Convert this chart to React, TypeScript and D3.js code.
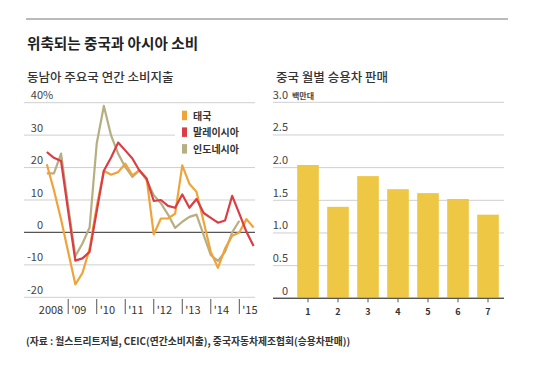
import * as d3 from 'd3';

// quarterly consumer spending growth, % y/y
const quarters = [
    '2008Q1', '2008Q2', '2008Q3', '2008Q4',
    '2009Q1', '2009Q2', '2009Q3', '2009Q4',
    '2010Q1', '2010Q2', '2010Q3', '2010Q4',
    '2011Q1', '2011Q2', '2011Q3', '2011Q4',
    '2012Q1', '2012Q2', '2012Q3', '2012Q4',
    '2013Q1', '2013Q2', '2013Q3', '2013Q4',
    '2014Q1', '2014Q2', '2014Q3', '2014Q4',
    '2015Q1', '2015Q2',
];
const thailand = [21, 13, 4, -6, -16, -12.5, -5, 8, 19, 17.8, 18.6, 21.2, 17.6, 19.2, 16.6, -0.6, 4.3, 4.3, 5.8, 20.7, 15, 12.5, 3.3, -6, -10.9, -5, -1, 0, 4.1, 1.5];
const malaysia = [24.8, 23, 22, 6.5, -8.7, -8, -6, 6.5, 19, 23, 27.7, 25.3, 22.8, 19, 16.6, 9.7, 10, 8.2, 7.6, 11.7, 7.6, 10.3, 6, 4.5, 3, 3.7, 11.3, 5.8, 0.2, -4.2];
const indonesia = [18.2, 18.2, 24.3, 8, -7.3, -3.4, 1.5, 27.4, 39, 30, 24.3, 20.2, 17.1, 19.2, 16.1, 11.5, 9, 5.5, 1.4, 3.3, 4.8, 5.5, -0.8, -7, -8.8, -6, 0, 3.6];

const yearLabels = ['2008', "'09", "'10", "'11", "'12", "'13", "'14", "'15"];
const leftTicks = [-20, -10, 0, 10, 20, 30, 40];

// China monthly passenger car sales, millions
const months = ['1', '2', '3', '4', '5', '6', '7'];
const carSales = [2.04, 1.40, 1.87, 1.67, 1.61, 1.52, 1.28];
const rightTicks = [0, 0.5, 1.0, 1.5, 2.0, 2.5, 3.0];

const series = [
    { name: '인도네시아', values: indonesia, color: '#b7ae84' },
    { name: '태국', values: thailand, color: '#efa33a' },
    { name: '말레이시아', values: malaysia, color: '#db3d44' },
];
const legendOrder = ['태국', '말레이시아', '인도네시아'];

const FONT = '"Noto Sans CJK KR", "Noto Sans", sans-serif';

const toYear = (q: string) => +q.slice(0, 4) + +q.slice(5) / 4;

export default function App() {
    const width = 540;
    const height = 368;

    // left chart scales
    const x = d3.scaleLinear().domain([2007.45, 2015.55]).range([24, 255]);
    const y = d3.scaleLinear().domain([-20, 40]).range([297.3, 102.7]);

    const line = (vals: number[]) =>
        d3.line<number>()
            .x((_, i) => x(toYear(quarters[i])))
            .y((d) => y(d))(vals) || '';

    // right chart scales
    const xb = d3.scaleBand<string>().domain(months).range([293, 503]).paddingInner(0.28).paddingOuter(0.14);
    const yb = d3.scaleLinear().domain([0, 3]).range([298.3, 102.3]);

    const legend = legendOrder.map((n) => series.find((s) => s.name === n)!);

    return (
        <svg width={width} height={height} style={{ position: 'absolute', left: 0, top: 0, background: '#fff' }} fontFamily={FONT}>
            <line x1={26} x2={508} y1={19} y2={19} stroke="#777" strokeWidth={1} />
            <text x={27} y={48.5} fontSize={14.6} fontWeight={700} fill="#222">위축되는 중국과 아시아 소비</text>
            <text x={27} y={82} fontSize={12.5} fontWeight={500} fill="#333">동남아 주요국 연간 소비지출</text>
            <text x={276} y={82} fontSize={12.5} fontWeight={500} fill="#333">중국 월별 승용차 판매</text>

            {/* left chart */}
            <g>
                {leftTicks.map((t) => (
                    <g key={t}>
                        <line x1={24} x2={255} y1={y(t)} y2={y(t)}
                            stroke={t === 0 ? '#555' : '#cfcfcf'} strokeWidth={t === 0 ? 1.3 : 1} />
                        <text x={43} y={y(t) - 3.5} fontSize={11} fill="#444" textAnchor="end">{t}</text>
                        {t === 40 && <text x={43} y={y(t) - 3.5} fontSize={11} fill="#444">%</text>}
                    </g>
                ))}
                <rect x={175} y={106} width={80} height={50} fill="#fff" />
                {yearLabels.map((l, i) => {
                    const yr = 2008 + i;
                    return (
                        <g key={l}>
                            {i > 0 && <line x1={x(yr)} x2={x(yr)} y1={299} y2={314} stroke="#555" strokeWidth={1} />}
                            <text x={i === 0 ? x(yr + 1) - 5 : x(yr) + 3} y={314} fontSize={11} fill="#333"
                                textAnchor={i === 0 ? 'end' : 'start'}>{l}</text>
                        </g>
                    );
                })}
                {series.map((s) => (
                    <path key={s.name} d={line(s.values)} fill="none" stroke={s.color}
                        strokeWidth={2.2} strokeLinejoin="round" />
                ))}
                {legend.map((s, i) => (
                    <g key={s.name} transform={`translate(182, ${110.7 + i * 16.7})`}>
                        <rect width={5} height={9.5} fill={s.color} />
                        <text x={11} y={9} fontSize={10} fontWeight={600} fill="#333">{s.name}</text>
                    </g>
                ))}
            </g>

            {/* right chart */}
            <g>
                {rightTicks.map((t) => (
                    <g key={t}>
                        <line x1={273} x2={504} y1={yb(t)} y2={yb(t)}
                            stroke={t === 0 ? '#555' : '#cfcfcf'} strokeWidth={t === 0 ? 1.3 : 1} />
                        <text x={288} y={yb(t) - 3.5} fontSize={11} fill="#444" textAnchor="end">
                            {t === 0 ? '0' : d3.format('.1f')(t)}
                        </text>
                        {t === 3 && <text x={292} y={yb(t) - 3.5} fontSize={8} fontWeight={700} fill="#444">백만대</text>}
                    </g>
                ))}
                {carSales.map((v, i) => (
                    <rect key={months[i]} x={xb(months[i])} y={yb(v)} width={xb.bandwidth()}
                        height={yb(0) - yb(v)} fill="#eec744" />
                ))}
                <line x1={273} x2={504} y1={yb(0)} y2={yb(0)} stroke="#555" strokeWidth={1.3} />
                {months.map((m) => {
                    const cx = (xb(m) || 0) + xb.bandwidth() / 2;
                    return (
                        <g key={m}>
                            <line x1={cx} x2={cx} y1={yb(0)} y2={yb(0) + 4} stroke="#555" />
                            <text x={cx} y={315} fontSize={9} fontWeight={700} fill="#333" textAnchor="middle">{m}</text>
                        </g>
                    );
                })}
            </g>

            <text x={26} y={345} fontSize={9.8} fontWeight={700} fill="#333">
                (자료 : 월스트리트저널, CEIC(연간소비지출), 중국자동차제조협회(승용차판매))
            </text>
        </svg>
    );
}
